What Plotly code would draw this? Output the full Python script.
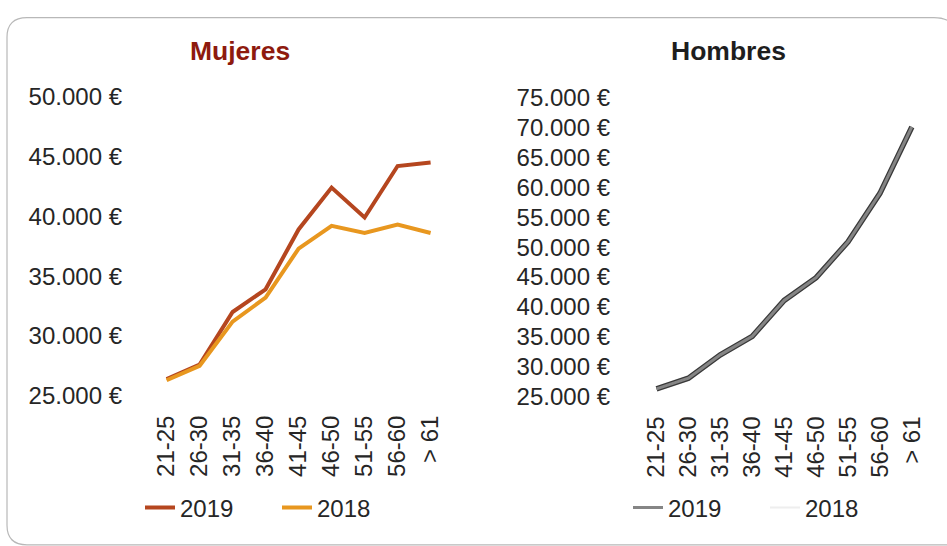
import plotly.graph_objects as go

W, H = 947, 546

categories = ["21-25", "26-30", "31-35", "36-40", "41-45", "46-50", "51-55", "56-60", "> 61"]
mujeres_2019 = [26400, 27600, 32000, 33900, 38900, 42400, 39900, 44200, 44500]
mujeres_2018 = [26300, 27500, 31200, 33200, 37300, 39200, 38600, 39300, 38600]
hombres_2019 = [26300, 28100, 32000, 35100, 41100, 44900, 50900, 59000, 70100]
hombres_2018 = [26200, 28000, 31600, 35000, 40800, 44800, 50500, 58600, 69600]
muj_ticks = [25000, 30000, 35000, 40000, 45000, 50000]
hom_ticks = [25000, 30000, 35000, 40000, 45000, 50000, 55000, 60000, 65000, 70000, 75000]


def eur(v):
    return f"{v:,}".replace(",", ".") + " €"


FONT = "Liberation Sans, Arial, sans-serif"
TXT = "#262626"
FS = 24

fig = go.Figure()
fig.add_trace(go.Scatter(x=categories, y=mujeres_2019, mode="lines", name="2019",
                         line=dict(color="#b5461f", width=4), xaxis="x", yaxis="y", legend="legend"))
fig.add_trace(go.Scatter(x=categories, y=mujeres_2018, mode="lines", name="2018",
                         line=dict(color="#e8971f", width=4), xaxis="x", yaxis="y", legend="legend"))
fig.add_trace(go.Scatter(x=categories, y=hombres_2018, mode="lines", name="2018",
                         line=dict(color="#eeeeee", width=2), xaxis="x2", yaxis="y2", legend="legend2"))
# dark outline of the 2019 men's line
fig.add_trace(go.Scatter(x=categories, y=hombres_2019, mode="lines", name="2019",
                         line=dict(color="#3a3a3a", width=5.5), xaxis="x2", yaxis="y2",
                         showlegend=False, hoverinfo="skip", legend="legend2"))
fig.add_trace(go.Scatter(x=categories, y=hombres_2019, mode="lines", name="2019",
                         line=dict(color="#858585", width=3), xaxis="x2", yaxis="y2",
                         legend="legend2"))


def px2x(p):
    return p / W


def px2y(p):
    return 1 - p / H


xcommon = dict(type="category", showgrid=False, zeroline=False, showline=False, ticks="",
               tickangle=-90, tickfont=dict(family=FONT, size=FS, color=TXT))
ycommon = dict(showgrid=False, zeroline=False, showline=False, ticks="",
               tickfont=dict(family=FONT, size=FS, color=TXT))

fig.update_layout(
    width=W, height=H, autosize=False,
    margin=dict(l=0, r=0, t=0, b=0),
    paper_bgcolor="white", plot_bgcolor="white",
    xaxis=dict(**xcommon, domain=[px2x(127), px2x(457)], range=[-1.2, 8.8], anchor="y",
               ticklabelstandoff=2),
    yaxis=dict(**ycommon, domain=[px2y(411.3), px2y(79.7)], range=[24000, 51000], anchor="x",
               tickvals=muj_ticks, ticktext=[eur(v) for v in muj_ticks], ticklabelstandoff=4),
    xaxis2=dict(**xcommon, domain=[px2x(615), px2x(931)], range=[-1.3, 8.6], anchor="y2",
                ticklabelstandoff=8),
    yaxis2=dict(**ycommon, domain=[px2y(406.1), px2y(86.9)], range=[24000, 76000], anchor="x2",
                tickvals=hom_ticks, ticktext=[eur(v) for v in hom_ticks], ticklabelstandoff=4),
    legend=dict(orientation="h", x=px2x(140), y=px2y(514), xanchor="left", yanchor="middle",
                font=dict(family=FONT, size=FS, color=TXT), bgcolor="rgba(0,0,0,0)",
                entrywidth=92, entrywidthmode="pixels"),
    legend2=dict(orientation="h", x=px2x(628), y=px2y(514), xanchor="left", yanchor="middle",
                 font=dict(family=FONT, size=FS, color=TXT), bgcolor="rgba(0,0,0,0)",
                 entrywidth=92, entrywidthmode="pixels", traceorder="reversed"),
    showlegend=True,
    annotations=[
        dict(text="<b>Mujeres</b>", x=px2x(240), y=px2y(45), xref="paper", yref="paper",
             xanchor="center", yanchor="middle", showarrow=False,
             font=dict(family=FONT, size=26.5, color="#8e1a0e")),
        dict(text="<b>Hombres</b>", x=px2x(728), y=px2y(45), xref="paper", yref="paper",
             xanchor="center", yanchor="middle", showarrow=False,
             font=dict(family=FONT, size=26.5, color="#1e1e1e")),
    ],
)

# rounded outer frame
x0, y0, x1, y1, r, rr = 7, 11, 958, 552, 20, 24
path = (f"M {px2x(x0)},{px2y(y0 + r)} Q {px2x(x0)},{px2y(y0)} {px2x(x0 + r)},{px2y(y0)} "
        f"L {px2x(x1 - rr)},{px2y(y0)} Q {px2x(x1)},{px2y(y0)} {px2x(x1)},{px2y(y0 + rr)} "
        f"L {px2x(x1)},{px2y(y1)} L {px2x(x0 + r)},{px2y(y1)} "
        f"Q {px2x(x0)},{px2y(y1)} {px2x(x0)},{px2y(y1 - r)} Z")
fig.add_shape(type="path", path=path, xref="paper", yref="paper",
              line=dict(color="#b8b8b8", width=1.2), layer="below")

fig.write_html(
    "out.html",
    config={"displayModeBar": False, "responsive": False},
    post_script=("document.body.style.margin='0';"
                 "document.documentElement.style.overflow='hidden';"
                 "document.body.style.overflow='hidden';"),
)
